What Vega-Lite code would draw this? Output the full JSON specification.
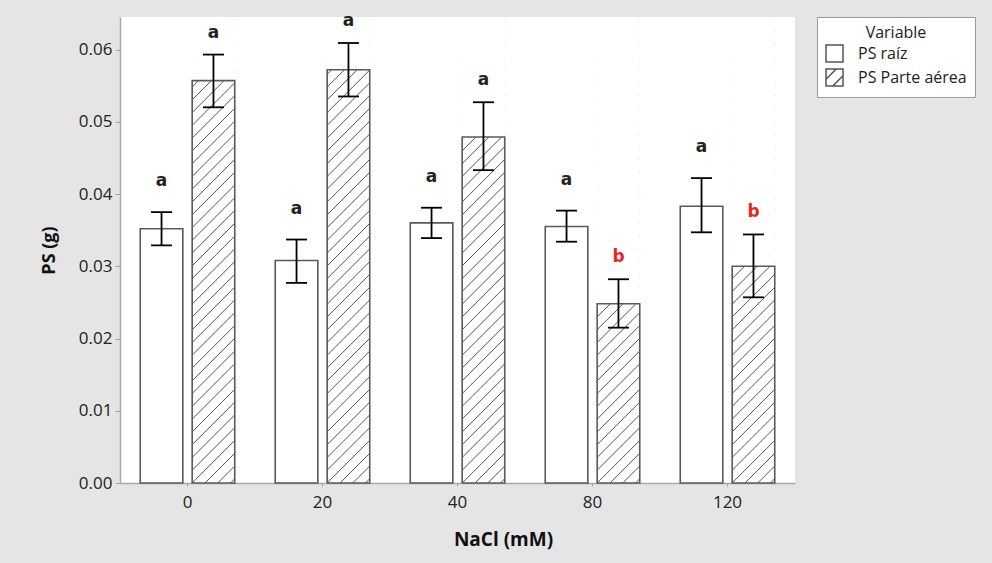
{
  "$schema": "https://vega.github.io/schema/vega-lite/v6.json",
  "autosize": {"type": "none"},
  "padding": {"left": 120, "top": 17, "right": 197, "bottom": 80},
  "width": 675,
  "height": 466,
  "background": "#e5e5e5",
  "config": {
    "view": {"fill": "white", "stroke": null},
    "axis": {"domainColor": "#a8a8a8", "domainWidth": 1.5, "tickColor": "#a0a0a0", "grid": false, "labelFont": "Open Sans", "labelColor": "#222", "titleFont": "Open Sans", "titleColor": "#111"}
  },
  "data": {
    "values": [
      {"NaCl": "0", "Variable": "PS raíz", "mean": 0.0352, "lo": 0.0329, "hi": 0.0375, "letter": "a"},
      {"NaCl": "0", "Variable": "PS Parte aérea", "mean": 0.0557, "lo": 0.0520, "hi": 0.0593, "letter": "a"},
      {"NaCl": "20", "Variable": "PS raíz", "mean": 0.0308, "lo": 0.0277, "hi": 0.0337, "letter": "a"},
      {"NaCl": "20", "Variable": "PS Parte aérea", "mean": 0.0572, "lo": 0.0535, "hi": 0.0609, "letter": "a"},
      {"NaCl": "40", "Variable": "PS raíz", "mean": 0.0360, "lo": 0.0339, "hi": 0.0381, "letter": "a"},
      {"NaCl": "40", "Variable": "PS Parte aérea", "mean": 0.0479, "lo": 0.0433, "hi": 0.0527, "letter": "a"},
      {"NaCl": "80", "Variable": "PS raíz", "mean": 0.0355, "lo": 0.0334, "hi": 0.0377, "letter": "a"},
      {"NaCl": "80", "Variable": "PS Parte aérea", "mean": 0.0248, "lo": 0.0215, "hi": 0.0282, "letter": "b"},
      {"NaCl": "120", "Variable": "PS raíz", "mean": 0.0383, "lo": 0.0347, "hi": 0.0422, "letter": "a"},
      {"NaCl": "120", "Variable": "PS Parte aérea", "mean": 0.0300, "lo": 0.0257, "hi": 0.0344, "letter": "b"}
    ]
  },
  "encoding": {
    "x": {
      "field": "NaCl", "type": "nominal", "sort": null,
      "scale": {"domain": ["0", "20", "40", "80", "120"], "paddingInner": 0.3, "paddingOuter": 0.15},
      "axis": {"title": "NaCl (mM)", "labelAngle": 0, "labelFontSize": 17, "labelPadding": 8, "tickSize": 3, "titleFontSize": 19, "titleFontWeight": "bold", "titleX": 383, "titleY": 56, "titleAlign": "center", "titleBaseline": "middle", "titleAnchor": null}
    },
    "xOffset": {
      "field": "Variable", "type": "nominal",
      "scale": {"domain": ["PS raíz", "PS Parte aérea"], "paddingInner": 0.18, "paddingOuter": 0}
    }
  },
  "layer": [
    {
      "mark": {"type": "point", "filled": false, "color": "#555", "strokeWidth": 1.5, "opacity": 1, "size": 289},
      "encoding": {
        "y": {
          "datum": 0.01, "type": "quantitative",
          "scale": {"domain": [0, 0.0645], "nice": false, "zero": true},
          "axis": {
            "title": "PS (g)",
            "values": [0, 0.005, 0.01, 0.015, 0.02, 0.025, 0.03, 0.035, 0.04, 0.045, 0.05, 0.055, 0.06],
            "labelExpr": "round(datum.value*1000) % 10 == 0 ? format(datum.value, '.2f') : ''",
            "labelFontSize": 17, "labelPadding": 3, "labelOverlap": false,
            "tickSize": {"condition": {"test": "round(datum.value*1000) % 10 != 0", "value": 3}, "value": 5},
            "titleFontSize": 18, "titleFontWeight": "bold", "titleAngle": 270,
            "titleX": -71, "titleY": 233, "titleAlign": "center", "titleBaseline": "middle", "titleAnchor": null
          }
        },
        "shape": {
          "field": "Variable", "type": "nominal",
          "scale": {
            "domain": ["PS raíz", "PS Parte aérea"],
            "range": ["square", "M-1,-1H1V1H-1ZM-1,0.2L0.2,-1M-0.2,1L1,-0.2"]
          },
          "legend": {
            "orient": "none", "legendX": 697, "legendY": 0,
            "title": "Variable", "titleFont": "Open Sans", "titleFontSize": 16, "titleFontWeight": "normal", "titleColor": "#222", "titleAnchor": "middle", "titlePadding": 3,
            "labelFont": "Open Sans", "labelFontSize": 16, "labelColor": "#222", "labelOffset": 14,
            "symbolSize": 289, "symbolStrokeColor": "#555", "symbolStrokeWidth": 1.5,
            "rowPadding": 1, "padding": 8, "fillColor": "white", "strokeColor": "#9a9a9a"
          }
        }
      }
    },
    {
      "transform": [{"filter": "datum.Variable == 'PS raíz'"}],
      "mark": {"type": "bar", "stroke": "#5a5a5a", "strokeWidth": 1.6},
      "encoding": {
        "y": {"field": "mean", "type": "quantitative"},
        "fill": {
          "field": "Variable", "type": "nominal",
          "scale": {"domain": ["PS raíz", "PS Parte aérea"], "range": ["white", "white"]},
          "legend": {
            "orient": "none", "legendX": 697, "legendY": 0,
            "title": "Variable", "titleFont": "Open Sans", "titleFontSize": 16, "titleFontWeight": "normal", "titleColor": "#222", "titleAnchor": "middle", "titlePadding": 3,
            "labelFont": "Open Sans", "labelFontSize": 16, "labelColor": "#222", "labelOffset": 14,
            "symbolSize": 289, "symbolStrokeColor": "#555", "symbolStrokeWidth": 1.5,
            "rowPadding": 1, "padding": 8, "fillColor": "white", "strokeColor": "#9a9a9a"
          }
        }
      }
    },
    {
      "transform": [{"filter": "datum.Variable == 'PS Parte aérea'"}],
      "mark": {"type": "bar", "fill": "white", "strokeWidth": 0},
      "encoding": {"y": {"field": "mean", "type": "quantitative"}}
    },
    {
      "transform": [{"filter": "datum.Variable == 'PS Parte aérea'"}],
      "mark": {
        "type": "point", "filled": false, "opacity": 1, "stroke": "#555", "strokeWidth": 1, "size": 1813,
        "shape": "M0.8,0L1,-0.2M0.2,0L1,-0.8M-0.4,0L1,-1.4M-1,0L1,-2M-1,-0.6L1,-2.6M-1,-1.2L1,-3.2M-1,-1.8L1,-3.8M-1,-2.4L1,-4.4M-1,-3L1,-5M-1,-3.6L1,-5.6M-1,-4.2L1,-6.2M-1,-4.8L1,-6.8M-1,-5.4L1,-7.4M-1,-6L1,-8M-1,-6.6L1,-8.6M-1,-7.2L1,-9.2M-1,-7.8L1,-9.8M-1,-8.4L1,-10.4M-1,-9L1,-11M-1,-9.6L1,-11.6M-1,-10.2L1,-12.2M-1,-10.8L1,-12.8M-1,-11.4L1,-13.4M-1,-12L1,-14M-1,-12.6L1,-14.6M-1,-13.2L1,-15.2M-1,-13.8L1,-15.8M-1,-14.4L1,-16.4M-1,-15L1,-17M-1,-15.6L1,-17.6M-1,-16.2L1,-18.2M-1,-16.8L1,-18.8M-1,-17.4L1,-19.4M-1,-18L1,-20M-1,-18.6L1,-20.6M-1,-19.2L1,-21.2M-1,-19.8L1,-21.8"
      },
      "encoding": {"y": {"datum": 0, "type": "quantitative"}}
    },
    {
      "transform": [{"filter": "datum.Variable == 'PS Parte aérea'"}],
      "mark": {"type": "bar", "fill": "white", "strokeWidth": 0},
      "encoding": {"y": {"field": "mean", "type": "quantitative"}, "y2": {"datum": 0.0645}}
    },
    {
      "transform": [{"filter": "datum.Variable == 'PS Parte aérea'"}],
      "mark": {"type": "bar", "fill": "white", "fillOpacity": 0, "stroke": "#5a5a5a", "strokeWidth": 1.6},
      "encoding": {"y": {"field": "mean", "type": "quantitative"}}
    },
    {
      "mark": {"type": "rule", "color": "black", "strokeWidth": 1.8},
      "encoding": {"y": {"field": "lo", "type": "quantitative"}, "y2": {"field": "hi"}}
    },
    {
      "mark": {"type": "tick", "color": "black", "opacity": 1, "size": 21, "thickness": 1.8},
      "encoding": {"y": {"field": "lo", "type": "quantitative"}}
    },
    {
      "mark": {"type": "tick", "color": "black", "opacity": 1, "size": 21, "thickness": 1.8},
      "encoding": {"y": {"field": "hi", "type": "quantitative"}}
    },
    {
      "transform": [{"filter": "datum.Variable == 'PS raíz'"}],
      "mark": {"type": "text", "font": "DejaVu Sans", "fontWeight": "bold", "fontSize": 17, "dy": -31, "baseline": "middle"},
      "encoding": {
        "y": {"field": "hi", "type": "quantitative"},
        "text": {"field": "letter"},
        "color": {"condition": {"test": "datum.letter == 'b'", "value": "#ee2424"}, "value": "#222"}
      }
    },
    {
      "transform": [{"filter": "datum.Variable == 'PS Parte aérea'"}],
      "mark": {"type": "text", "font": "DejaVu Sans", "fontWeight": "bold", "fontSize": 17, "dy": -22, "baseline": "middle"},
      "encoding": {
        "y": {"field": "hi", "type": "quantitative"},
        "text": {"field": "letter"},
        "color": {"condition": {"test": "datum.letter == 'b'", "value": "#ee2424"}, "value": "#222"}
      }
    }
  ]
}
